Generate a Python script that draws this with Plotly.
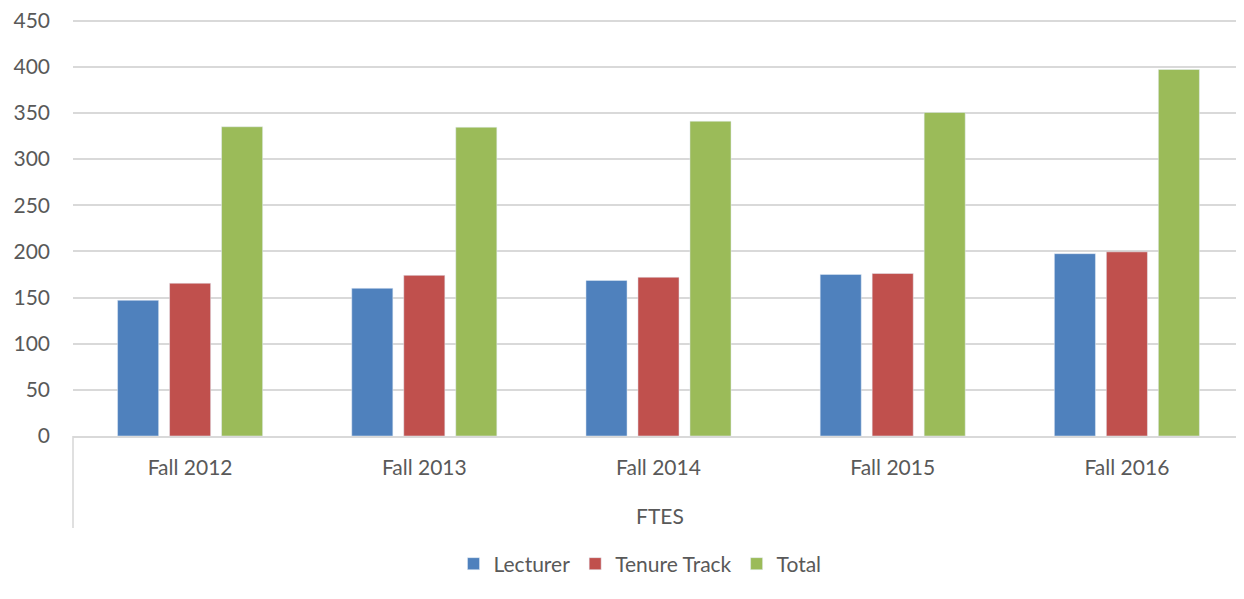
import plotly.graph_objects as go

terms = ["Fall 2012", "Fall 2013", "Fall 2014", "Fall 2015", "Fall 2016"]
lecturer = [147, 160, 168.5, 175, 197.5]
tenure_track = [165.5, 174, 172, 176, 199.5]
total = [335, 334.5, 341, 350.5, 397]
y_ticks = [0, 50, 100, 150, 200, 250, 300, 350, 400, 450]

font_name = "Lato"
fsize = 21
grey_text = "#595959"
grid = "#d9d9d9"

# the page body has an 8px margin, so the figure is 8px smaller each way
W, H = 1236, 591

fig = go.Figure()
fig.add_trace(go.Bar(name="Lecturer", x=terms, y=lecturer, marker_color="#4f81bd"))
fig.add_trace(go.Bar(name="Tenure Track", x=terms, y=tenure_track, marker_color="#c0504d"))
fig.add_trace(go.Bar(name="Total", x=terms, y=total, marker_color="#9bbb59"))

fig.update_layout(
    width=W, height=H,
    margin=dict(l=65, r=0, t=10, b=163, autoexpand=False),
    paper_bgcolor="white", plot_bgcolor="white",
    barmode="group", bargap=0.334, bargroupgap=0.21,
    font=dict(family=font_name, size=fsize, color=grey_text),
    showlegend=True,
    legend=dict(orientation="h", xref="container", yref="container",
                x=632 / W, xanchor="center", y=1 - 556 / H, yanchor="middle",
                font=dict(size=fsize, color=grey_text), itemwidth=30, traceorder="normal"),
)
fig.update_yaxes(range=[0, 452.8], tickvals=y_ticks, showgrid=True, gridcolor=grid,
                 gridwidth=1.6, zeroline=False, showline=False, ticklabelstandoff=22,
                 ticklabeloverflow="allow", automargin=False,
                 tickfont=dict(size=fsize, color=grey_text))
fig.update_xaxes(showline=True, linecolor=grid, linewidth=1.6, showgrid=False,
                 ticks="", ticklabelstandoff=12, automargin=False,
                 tickfont=dict(size=fsize, color=grey_text))

fig.add_shape(type="line", xref="paper", yref="paper", x0=0, x1=0, y0=0, y1=-92 / 418,
              line=dict(color=grid, width=1.6))
fig.add_annotation(text="FTES", xref="paper", yref="paper", x=(660 - 73) / 1171,
                   y=-79 / 418, showarrow=False, xanchor="center", yanchor="middle",
                   font=dict(size=fsize, color=grey_text))

fig.write_html("out.html")
